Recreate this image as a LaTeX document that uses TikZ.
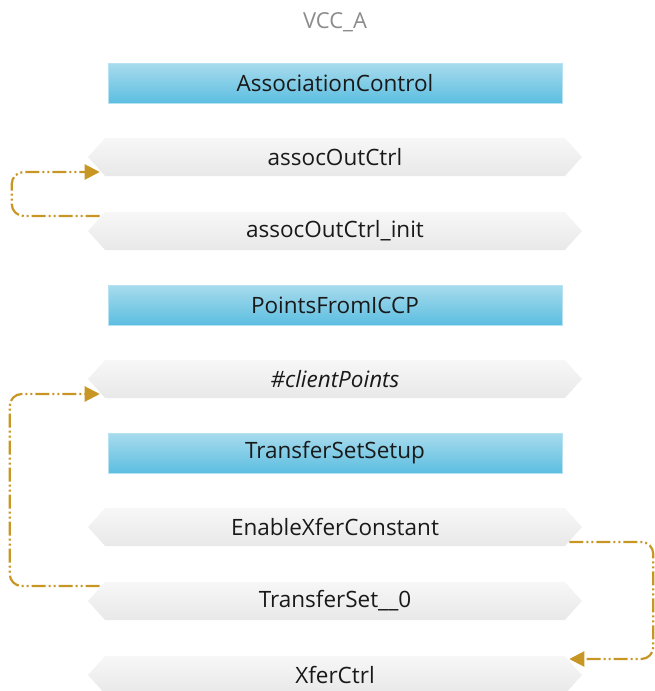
\documentclass[tikz,border=0pt]{standalone}
\usepackage{fontspec}
\setmainfont{Open Sans}
\usetikzlibrary{positioning,calc,shapes.symbols,arrows.meta}
\definecolor{boxtop}{RGB}{168,219,237}
\definecolor{boxbottom}{RGB}{92,190,225}
\definecolor{boxedge}{RGB}{182,226,242}
\definecolor{hexlight}{RGB}{247,247,247}
\definecolor{hexgray}{RGB}{231,231,231}
\definecolor{loopgold}{RGB}{199,150,36}
\definecolor{labeltext}{RGB}{25,25,25}
\definecolor{titlegray}{RGB}{140,140,140}
\tikzset{
    classbox/.style={rectangle, minimum width=454pt, minimum height=40pt, top color=boxtop, bottom color=boxbottom, draw=boxedge, line width=0.8pt, text=labeltext, font=\fontsize{22.5}{26}\selectfont},
    varhex/.style={signal, signal to=west and east, signal pointer angle=96, minimum width=494pt, minimum height=38pt, inner sep=0pt, top color=hexlight, middle color=hexgray, bottom color=hexgray!95!white, text=labeltext, font=\fontsize{22.5}{26}\selectfont},
    loopline/.style={-{Triangle[length=15pt,width=15pt]}, loopgold, line width=2.2pt, rounded corners=12pt, dash pattern=on 14pt off 3pt on 2pt off 3pt on 2pt off 3pt},
    diagtitle/.style={text=titlegray, font=\fontsize{22}{26}\selectfont},
}
\begin{document}
\begin{tikzpicture}
        [x=1pt, y=1pt, node distance=74pt, on grid]
        \useasboundingbox (0,0) rectangle (655,-691);

        % Title and class rows
        \node[diagtitle] (vcc) at (335,-22) {VCC\_A};
        \node[classbox] (assoc) at (335,-83) {AssociationControl};
        \node[varhex,below=of assoc] (outctrl) {assocOutCtrl};
        \node[varhex,below=of outctrl] (outinit) {assocOutCtrl\_init};
        \node[classbox,below=of outinit] (iccp) {PointsFromICCP};
        \node[varhex,below=of iccp] (clients) {\itshape \#clientPoints};
        \node[classbox,below=of clients] (setup) {TransferSetSetup};
        \node[varhex,below=of setup] (enable) {EnableXferConstant};
        \node[varhex,below=of enable] (tset) {TransferSet\_\_0};
        \node[varhex,below=of tset] (xfer) {XferCtrl};

        % Loops
        \draw[loopline] ($(outinit.west)+(12,15)$) -- ++(-88,0) |- ($(outctrl.west)+(12,-15)$);
        \draw[loopline] ($(tset.west)+(12,15)$) -- ++(-90,0) |- ($(clients.west)+(12,-15)$);
        \draw[loopline] ($(enable.east)+(-13,-15)$) -- ++(84,0) |- ($(xfer.east)+(-13,16)$);

    \end{tikzpicture}
\end{document}
